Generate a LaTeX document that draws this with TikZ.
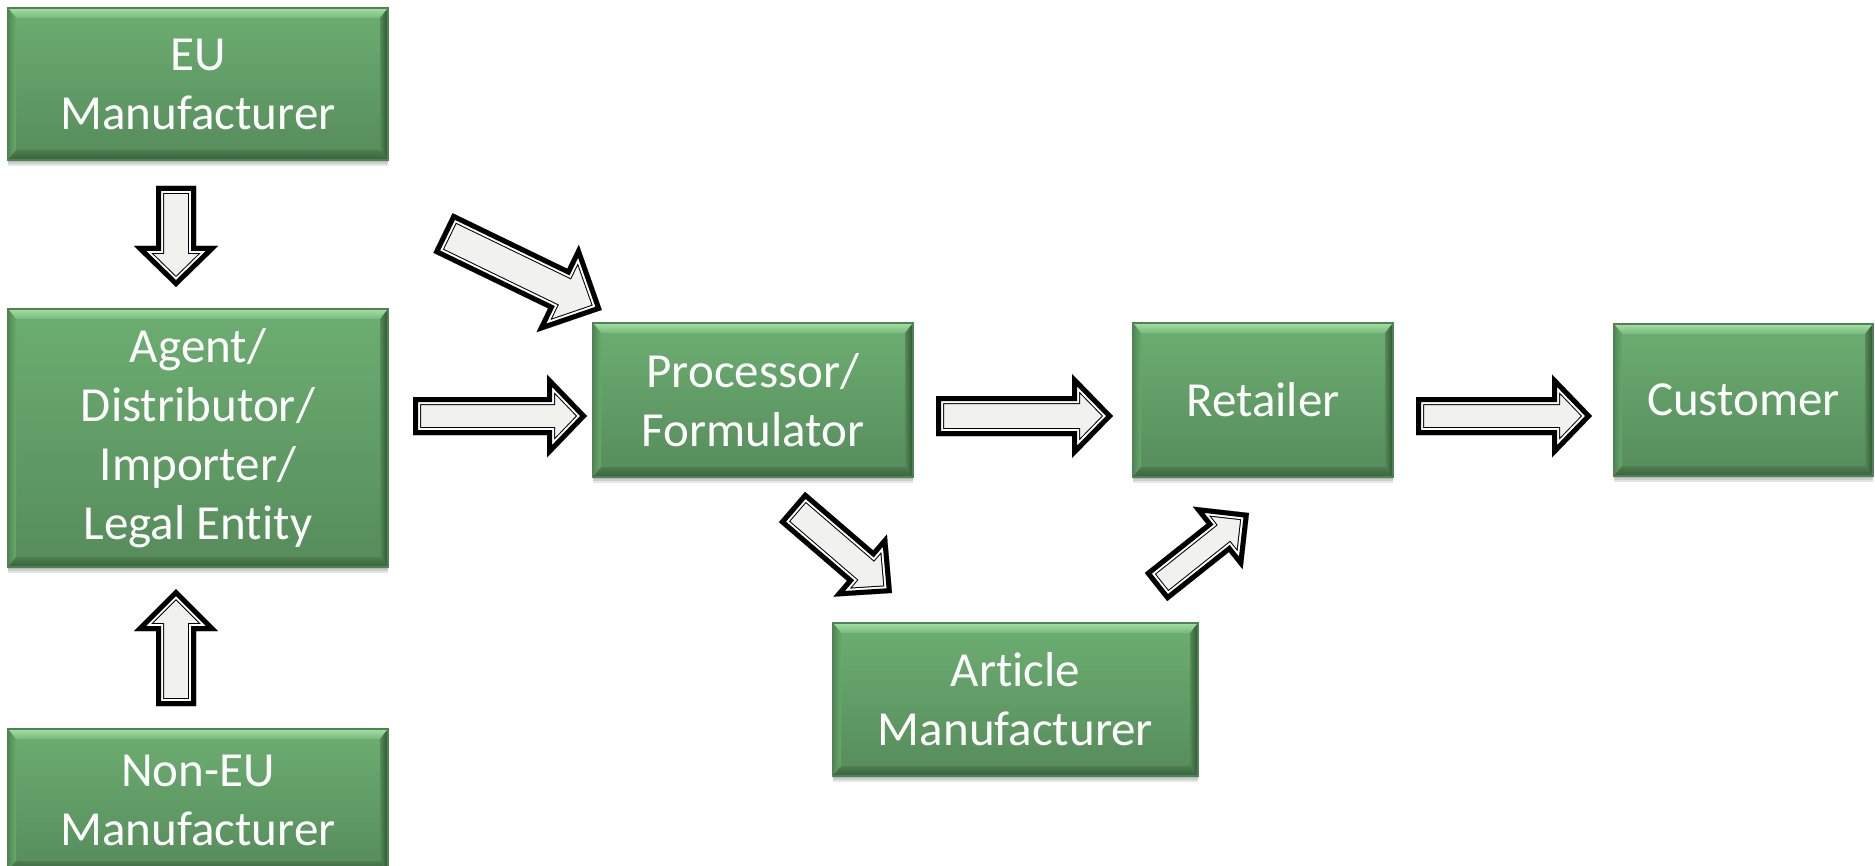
\documentclass[tikz,border=0pt]{standalone}
\usepackage{fontspec}
\setmainfont{Carlito}[Ligatures={NoCommon,NoContextual,NoRequired}, Contextuals=NoAlternate]
\usetikzlibrary{calc}
\definecolor{facetop}{RGB}{108,174,113}
\definecolor{facebot}{RGB}{86,140,91}
\definecolor{bevtopA}{RGB}{165,222,165}
\definecolor{bevtopB}{RGB}{118,186,122}
\definecolor{bevleftA}{RGB}{80,138,85}
\definecolor{bevleftB}{RGB}{104,168,108}
\definecolor{bevrightA}{RGB}{84,138,88}
\definecolor{bevrightB}{RGB}{44,86,48}
\definecolor{bevbotA}{RGB}{78,126,82}
\definecolor{bevbotB}{RGB}{56,98,60}
\definecolor{boxedge}{RGB}{80,130,84}
\definecolor{arrowfill}{RGB}{241,241,237}
\tikzset{
  gbox/.style={draw=boxedge, line width=0.6pt, top color=facetop, bottom color=facebot,
    inner sep=0pt, outer sep=0pt, text=white, align=center,
    font=\fontsize{24.5}{29.5}\selectfont,
    preaction={fill=black, draw=none, opacity=0.10, transform canvas={yshift=-1pt}},
    preaction={fill=black, draw=none, opacity=0.10, transform canvas={yshift=-2pt}},
    preaction={fill=black, draw=none, opacity=0.10, transform canvas={yshift=-3.2pt}},
    path picture={
      \path (path picture bounding box.north west) coordinate (bnw)
            (path picture bounding box.north east) coordinate (bne)
            (path picture bounding box.south west) coordinate (bsw)
            (path picture bounding box.south east) coordinate (bse);
      \shade[top color=bevtopA, bottom color=bevtopB]
        (bnw) -- (bne) -- ($(bne)+(-8,10)$) -- ($(bnw)+(8,10)$) -- cycle;
      \shade[left color=bevleftA, right color=bevleftB]
        (bnw) -- ($(bnw)+(8,10)$) -- ($(bsw)+(8,-10)$) -- (bsw) -- cycle;
      \shade[left color=bevrightA, right color=bevrightB]
        (bne) -- ($(bne)+(-8,10)$) -- ($(bse)+(-8,-10)$) -- (bse) -- cycle;
      \shade[top color=bevbotA, bottom color=bevbotB]
        (bsw) -- (bse) -- ($(bse)+(-8,-10)$) -- ($(bsw)+(8,-10)$) -- cycle;
    }}
}
\newcommand\blockarrow[5]{%
  \path let \p1=(#1), \p2=(#2) in \pgfextra{%
    \pgfmathsetmacro\baang{atan2(\y2-\y1,\x2-\x1)}%
    \pgfmathsetmacro\balen{veclen(\x2-\x1,\y2-\y1)}%
    \xdef\BAang{\baang}\xdef\BAlen{\balen}};
  \pgfmathsetmacro\BAsa{#3/4}%
  \pgfmathsetmacro\BAha{#4/4}%
  \pgfmathsetmacro\BAhb{\BAlen-#5/2}%
  \begin{scope}[shift={(#1)}, rotate=\BAang, line join=miter, miter limit=20]
    \def\BApath{(0pt,-\BAsa pt) -- (\BAhb pt,-\BAsa pt) -- (\BAhb pt,-\BAha pt) -- (\BAlen pt,0pt)
      -- (\BAhb pt,\BAha pt) -- (\BAhb pt,\BAsa pt) -- (0pt,\BAsa pt) -- cycle}
    \fill[arrowfill] \BApath;
    \begin{scope}
      \clip \BApath;
      \draw[black, line width=8pt] \BApath;
      \draw[white, line width=7pt] \BApath;
      \draw[black, line width=5pt] \BApath;
    \end{scope}
  \end{scope}
}
\begin{document}
\begin{tikzpicture}[x=0.5pt, y=-0.5pt]
\useasboundingbox[fill=white] (0,0) rectangle (1875,866);

% boxes
\node[gbox, minimum width=190pt, minimum height=76pt] (eu) at (198,84) {EU\\Manufacturer};
\node[gbox, minimum width=190pt, minimum height=129pt] (agent) at (198,438) {Agent/\\Distributor/\\Importer/\\Legal Ent\kern0.3pt ity};
\node[gbox, minimum width=190pt, minimum height=71pt] (noneu) at (198,800) {Non-EU\\Manufacturer};
\node[gbox, minimum width=160pt, minimum height=77pt] (proc) at (753,400) {Processor/\\Formulator};
\node[gbox, minimum width=130pt, minimum height=77pt] (ret) at (1263,400) {Retailer};
\node[gbox, minimum width=129.5pt, minimum height=76pt] (cust) at (1743.5,400) {Customer};
\node[gbox, minimum width=182.5pt, minimum height=76.5pt] (art) at (1015.5,699.5) {Article\\Manufacturer};

% arrow end points
\coordinate (a1s) at (176,186);  \coordinate (a1e) at (176,287);
\coordinate (a2s) at (176,706);  \coordinate (a2e) at (176,589);
\coordinate (a3s) at (443,233);  \coordinate (a3e) at (602,310);
\coordinate (a4s) at (413,416);  \coordinate (a4e) at (587,416);
\coordinate (a5s) at (936,416);  \coordinate (a5e) at (1113,416);
\coordinate (a6s) at (1416,416); \coordinate (a6e) at (1592,416);
\coordinate (a7s) at (792,507);  \coordinate (a7e) at (892,593);
\coordinate (a8s) at (1156,587); \coordinate (a8e) at (1249,513);

\blockarrow{a1s}{a1e}{40}{84}{41}
\blockarrow{a2s}{a2e}{40}{84}{42}
\blockarrow{a3s}{a3e}{44}{97}{49}
\blockarrow{a4s}{a4e}{38}{83}{40}
\blockarrow{a5s}{a5e}{40}{84}{41}
\blockarrow{a6s}{a6e}{38}{83}{40}
\blockarrow{a7s}{a7e}{40}{82}{42}
\blockarrow{a8s}{a8e}{36}{80}{40}
\end{tikzpicture}
\end{document}
